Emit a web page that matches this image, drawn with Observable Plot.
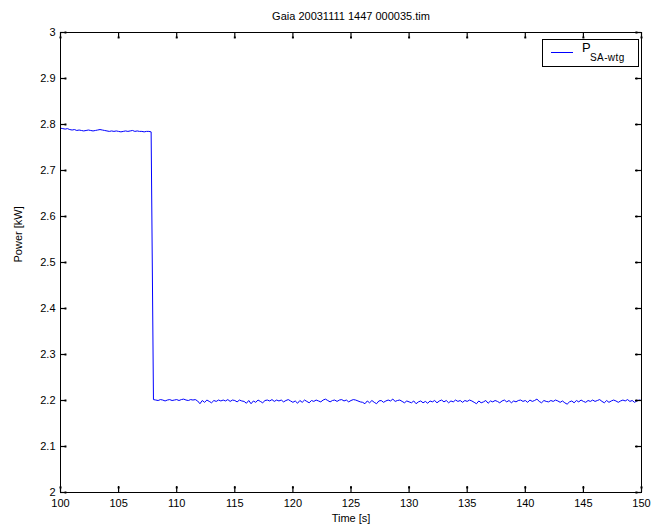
<!DOCTYPE html>
<html>
<head>
<meta charset="utf-8">
<script src="https://cdn.jsdelivr.net/npm/d3@7"></script>
<script src="https://cdn.jsdelivr.net/npm/@observablehq/plot@0.6"></script>
<style>
  body { margin: 0; background: #fff; }
  #wrap { position: relative; width: 654px; height: 532px; font-family: "Liberation Sans", Arial, sans-serif; }
  #legend { position: absolute; left: 542px; top: 39px; width: 97px; height: 28px; box-sizing: border-box;
            border: 1px solid #000; background: #fff; font-size: 11px; }
  #legend .sw { position: absolute; left: 8px; top: 12px; width: 22px; height: 1px; background: #0000ff; }
  #legend .tx { position: absolute; left: 39px; top: 0px; font-size: 13px; }
  #legend .sb { position: absolute; left: 47px; top: 12px; font-size: 10px; letter-spacing: 0.4px; }
</style>
</head>
<body>
<div id="wrap"></div>
<script>
const title = "Gaia 20031111 1447 000035.tim";
const xLabel = "Time [s]";
const yLabel = "Power [kW]";
const xTicks = [100, 105, 110, 115, 120, 125, 130, 135, 140, 145, 150];
const yTicks = [2, 2.1, 2.2, 2.3, 2.4, 2.5, 2.6, 2.7, 2.8, 2.9, 3];
const seriesName = "P";
const seriesSub = "SA-wtg";

// sampled every 0.2 s from t = 100 s
const startTime = 100;
const sampleStep = 0.2;
const power = [
  // 100.0 - 107.8 s
  2.792, 2.791, 2.790, 2.791, 2.789, 2.788, 2.789, 2.787, 2.788, 2.787,
  2.786, 2.787, 2.788, 2.787, 2.786, 2.787, 2.788, 2.789, 2.788, 2.787,
  2.786, 2.785, 2.786, 2.785, 2.786, 2.785, 2.784, 2.785, 2.786, 2.785,
  2.786, 2.787, 2.785, 2.786, 2.785, 2.785, 2.784, 2.785, 2.785, 2.784,
  // 108.0 - 150.0 s
  2.202, 2.201, 2.200, 2.202, 2.201, 2.199, 2.201, 2.202, 2.200, 2.201,
  2.202, 2.200, 2.202, 2.203, 2.201, 2.200, 2.202, 2.201, 2.202, 2.199,
  2.193, 2.200, 2.196, 2.201, 2.198, 2.195, 2.200, 2.198, 2.201, 2.199,
  2.201, 2.199, 2.202, 2.198, 2.201, 2.200, 2.197, 2.201, 2.199, 2.198,
  2.194, 2.200, 2.193, 2.199, 2.196, 2.201, 2.198, 2.195, 2.200, 2.201,
  2.199, 2.202, 2.198, 2.201, 2.199, 2.201, 2.197, 2.200, 2.202, 2.199,
  2.196, 2.199, 2.194, 2.200, 2.196, 2.201, 2.198, 2.195, 2.200, 2.198,
  2.201, 2.199, 2.197, 2.201, 2.203, 2.200, 2.197, 2.200, 2.201, 2.198,
  2.201, 2.202, 2.199, 2.201, 2.197, 2.200, 2.202, 2.201, 2.199, 2.197,
  2.196, 2.193, 2.199, 2.195, 2.200, 2.196, 2.193, 2.199, 2.200, 2.196,
  2.199, 2.201, 2.199, 2.203, 2.198, 2.200, 2.201, 2.198, 2.195, 2.199,
  2.197, 2.195, 2.199, 2.193, 2.197, 2.199, 2.195, 2.198, 2.194, 2.199,
  2.197, 2.200, 2.195, 2.199, 2.201, 2.197, 2.200, 2.195, 2.199, 2.197,
  2.201, 2.198, 2.200, 2.196, 2.200, 2.198, 2.201, 2.199, 2.196, 2.193,
  2.199, 2.195, 2.197, 2.200, 2.194, 2.199, 2.197, 2.200, 2.198, 2.195,
  2.199, 2.201, 2.197, 2.200, 2.195, 2.199, 2.197, 2.200, 2.201, 2.198,
  2.200, 2.196, 2.201, 2.198, 2.200, 2.203, 2.198, 2.195, 2.200, 2.198,
  2.197, 2.200, 2.198, 2.201, 2.199, 2.196, 2.199, 2.195, 2.192, 2.197,
  2.199, 2.195, 2.200, 2.197, 2.201, 2.198, 2.196, 2.200, 2.198, 2.201,
  2.198, 2.200, 2.202, 2.198, 2.195, 2.200, 2.196, 2.199, 2.201, 2.199,
  2.196, 2.199, 2.201, 2.199, 2.202, 2.198, 2.200, 2.196, 2.199, 2.201,
  2.200
];

const data = power.map((p, i) => ({t: +(startTime + i * sampleStep).toFixed(2), p}));
const fmtY = d => String(+d.toFixed(1));
const font = "Liberation Sans, Arial, sans-serif";
const xDom = [100, 150];
const yDom = [2, 3];
const T = 6; // tick length in px
const frameW = 654 - 60 - 13;
const frameH = 532 - 32 - 40;
const nub = {symbol: "square", r: 1.1, fill: "#000", stroke: null};

const chart = Plot.plot({
  width: 654,
  height: 532,
  marginLeft: 60,
  marginRight: 13,
  marginTop: 32,
  marginBottom: 40,
  style: {fontFamily: font, fontSize: "11px", background: "#fff", color: "#000"},
  x: {domain: xDom},
  y: {domain: yDom},
  marks: [
    Plot.lineY(data, {x: "t", y: "p", stroke: "#0000ff", strokeWidth: 1}),
    // inward ticks on all four sides
    Plot.tickX(xTicks, {x: d => d, insetTop: frameH - T, stroke: "#000", strokeWidth: 1.2}),
    Plot.tickX(xTicks, {x: d => d, insetBottom: frameH - T, stroke: "#000", strokeWidth: 1.2}),
    Plot.tickY(yTicks, {y: d => d, insetRight: frameW - T, stroke: "#000", strokeWidth: 1.2}),
    Plot.tickY(yTicks, {y: d => d, insetLeft: frameW - T, stroke: "#000", strokeWidth: 1.2}),
    // small squares at the inner tick ends (as in the reference rendering)
    Plot.dot(xTicks, {x: d => d, y: yDom[0], dy: -T + 1, ...nub}),
    Plot.dot(xTicks, {x: d => d, y: yDom[1], dy: T - 1, ...nub}),
    Plot.dot(yTicks, {y: d => d, x: xDom[0], dx: T - 1, ...nub}),
    Plot.dot(yTicks, {y: d => d, x: xDom[1], dx: -T + 1, ...nub}),
    Plot.frame({stroke: "#000", strokeWidth: 1}),
    // tick labels
    Plot.axisX(xTicks, {anchor: "bottom", tickSize: 0, tickPadding: 7, label: null, fontSize: 11}),
    Plot.axisY(yTicks, {anchor: "left", tickSize: 0, tickPadding: 5, label: null, tickFormat: fmtY, fontSize: 11}),
    // titles
    Plot.text([title], {frameAnchor: "top", dy: -20, fontSize: 11}),
    Plot.text([xLabel], {frameAnchor: "bottom", dy: 29, fontSize: 11}),
    Plot.text([yLabel], {frameAnchor: "left", dx: -42, rotate: -90, fontSize: 11})
  ]
});

const wrap = document.getElementById("wrap");
wrap.appendChild(chart);
const legend = document.createElement("div");
legend.id = "legend";
legend.innerHTML = `<span class="sw"></span><span class="tx">${seriesName}</span><span class="sb">${seriesSub}</span>`;
wrap.appendChild(legend);
</script>
</body>
</html>
